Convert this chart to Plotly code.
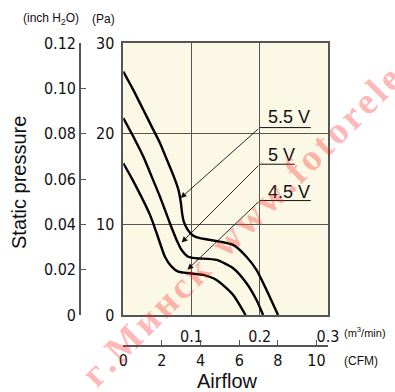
import plotly.graph_objects as go

# ---------------- data (airflow m3/min, static pressure Pa) ----------------
flow_55 = [0, 0.0146, 0.0293, 0.0416, 0.0537, 0.064, 0.0742, 0.0808, 0.0844, 0.0863, 0.0888, 0.094,
           0.102, 0.1122, 0.1269, 0.1415, 0.161, 0.1805, 0.1952, 0.2099, 0.2268]
pres_55 = [26.85, 24.83, 22.63, 20.78, 18.98, 17.11, 15.23, 13.8, 12.36, 11.15, 10.26, 9.44,
           8.77, 8.47, 8.28, 8.09, 7.73, 6.43, 4.97, 2.76, 0]

flow_50 = [0, 0.0146, 0.0293, 0.0416, 0.0537, 0.0683, 0.0781, 0.0855, 0.0951, 0.1074, 0.1367,
           0.161, 0.1806, 0.1952, 0.2049]
pres_50 = [21.71, 19.68, 17.47, 15.26, 13.06, 10.12, 8.28, 7.17, 6.43, 6.26, 6.07,
           5.15, 3.5, 1.66, 0]

flow_45 = [0, 0.0123, 0.0391, 0.0489, 0.061, 0.0708, 0.0805, 0.0976, 0.1171, 0.1367, 0.161, 0.1791]
pres_45 = [16.74, 15.09, 11.04, 9.02, 6.43, 5.33, 4.78, 4.6, 4.42, 3.86, 2.21, 0]

series_names = ["5.5 V", "5 V", "4.5 V"]

m3_ticks = [0.1, 0.2, 0.3]
m3_ticktext = ["0.1", "0.2", "0.3"]
pa_ticks = [0, 10, 20, 30]
inch_ticks = [0, 0.02, 0.04, 0.06, 0.08, 0.10, 0.12]
inch_ticktext = ["0", "0.02", "0.04", "0.06", "0.08", "0.10", "0.12"]
cfm_ticks = [0, 2, 4, 6, 8, 10]
CFM_PER_M3MIN = 35.3147

# ---------------- layout geometry ----------------
W, H = 395, 392
ML, MR, MT, MB = 60, 67, 43, 40
PW, PH = W - ML - MR, H - MT - MB


def px2x(px):
    return (px - ML) / PW


def py2y(py):
    return (H - MB - py) / PH


PLOT_L, PLOT_B = 123.3, 315

NARROW = "Liberation Sans Narrow, DejaVu Sans Condensed, Roboto Condensed, Liberation Sans, Arial"
SANS = "Liberation Sans, Arial, Helvetica"
AXC = "#555555"
TICKSIZE = 16

fig = go.Figure()
for fx, py, name in [(flow_55, pres_55, series_names[0]),
                     (flow_50, pres_50, series_names[1]),
                     (flow_45, pres_45, series_names[2])]:
    fig.add_trace(go.Scatter(x=fx, y=py, mode="lines", name=name,
                             line=dict(color="black", width=2.4, shape="spline", smoothing=0.6),
                             hoverinfo="skip", showlegend=False))

# helper invisible traces so the extra axes are drawn
fig.add_trace(go.Scatter(x=[0], y=[0], xaxis="x2", yaxis="y", mode="markers",
                         marker=dict(opacity=0), hoverinfo="skip", showlegend=False))
fig.add_trace(go.Scatter(x=[0], y=[0], xaxis="x", yaxis="y2", mode="markers",
                         marker=dict(opacity=0), hoverinfo="skip", showlegend=False))

fig.update_layout(
    width=W, height=H,
    margin=dict(l=ML, r=MR, t=MT, b=MB),
    paper_bgcolor="white",
    plot_bgcolor="#fcf8e6",
    font=dict(family=NARROW, color="#111", size=TICKSIZE),
    xaxis=dict(domain=[px2x(PLOT_L), 1], range=[0, 0.3], tickvals=m3_ticks, ticktext=m3_ticktext,
               showgrid=True, gridcolor=AXC, gridwidth=1.3, zeroline=False,
               showline=True, linecolor=AXC, linewidth=1.6, mirror=True,
               ticks="outside", ticklen=6, tickcolor="rgba(0,0,0,0)",
               tickfont=dict(family=NARROW, size=TICKSIZE)),
    yaxis=dict(domain=[py2y(PLOT_B), 1], range=[0, 30], tickvals=pa_ticks,
               showgrid=True, gridcolor=AXC, gridwidth=1.3, zeroline=False,
               showline=True, linecolor=AXC, linewidth=1.6, mirror=True,
               ticks="outside", ticklen=4, tickcolor="rgba(0,0,0,0)",
               tickfont=dict(family=NARROW, size=TICKSIZE)),
    yaxis2=dict(overlaying="y", anchor="free", position=px2x(80), side="left",
                range=[0, 0.12], tickvals=inch_ticks, ticktext=inch_ticktext,
                showgrid=False, zeroline=False, showline=True, linecolor=AXC, linewidth=1.6,
                ticks="inside", ticklen=5, tickcolor=AXC, tickwidth=1.4,
                tickfont=dict(family=NARROW, size=TICKSIZE)),
    xaxis2=dict(overlaying="x", anchor="free", position=py2y(345.7), side="bottom",
                range=[0, 0.3 * CFM_PER_M3MIN], tickvals=cfm_ticks,
                showgrid=False, zeroline=False, showline=True, linecolor=AXC, linewidth=1.6,
                ticks="inside", ticklen=5, tickcolor=AXC, tickwidth=1.4,
                tickfont=dict(family=NARROW, size=TICKSIZE)),
)

ann = []
# unit / axis titles
ann.append(dict(text="(inch H<sub>2</sub>O)", x=px2x(51), y=py2y(19), font=dict(family=SANS, size=12)))
ann.append(dict(text="(Pa)", x=px2x(103), y=py2y(19), font=dict(family=SANS, size=12)))
ann.append(dict(text="Static pressure", x=px2x(19), y=py2y(183), textangle=-90,
                font=dict(family=SANS, size=20)))
ann.append(dict(text="Airflow", x=px2x(227), y=py2y(381), font=dict(family=SANS, size=20)))
ann.append(dict(text="(m<sup>3</sup>/min)", x=px2x(342), y=py2y(332), xanchor="left",
                font=dict(family=SANS, size=11)))
ann.append(dict(text="(CFM)", x=px2x(342), y=py2y(361), xanchor="left", font=dict(family=SANS, size=12)))
for a in ann:
    a.update(xref="paper", yref="paper", showarrow=False)
    a.setdefault("xanchor", "center")
    a["yanchor"] = "middle"

# voltage labels with leader arrows
label_x = 0.2
label_text_y = [21.8, 17.6, 13.6]
underline_y = [20.67, 16.63, 12.62]
underline_end = [0.2747, 0.2513, 0.2747]
arrow_head = [(0.084, 12.9), (0.0855, 8.0), (0.094, 5.0)]
for name, ty, uy, ue, (hx, hy) in zip(series_names, label_text_y, underline_y, underline_end, arrow_head):
    ann.append(dict(text=name, x=label_x + 0.009, y=ty, xref="x", yref="y", xanchor="left",
                    yanchor="middle", showarrow=False, font=dict(family=SANS, size=18, color="#111")))
    ann.append(dict(text="", x=hx, y=hy, ax=label_x, ay=uy, xref="x", yref="y", axref="x", ayref="y",
                    showarrow=True, arrowhead=2, arrowsize=1.3, arrowwidth=0.9, arrowcolor="#111"))
    fig.add_shape(type="line", x0=label_x, x1=ue, y0=uy, y1=uy, xref="x", yref="y",
                  line=dict(color="#111", width=1))

# watermark
wm = "\u200a".join(list("г.Минск")) + "\u00a0\u00a0" + "\u200a".join(list("www.fotorele"))
ann.append(dict(text=wm, x=px2x(241), y=py2y(226), xref="paper", yref="paper", showarrow=False,
                textangle=-45, xanchor="center", yanchor="middle",
                font=dict(family="Liberation Serif, Times New Roman, serif", size=38, weight="bold",
                          color="rgba(255,30,30,0.32)")))

fig.update_layout(annotations=ann)
fig.write_html("out.html", post_script="document.body.style.margin='0';",
               config={"displayModeBar": False})
